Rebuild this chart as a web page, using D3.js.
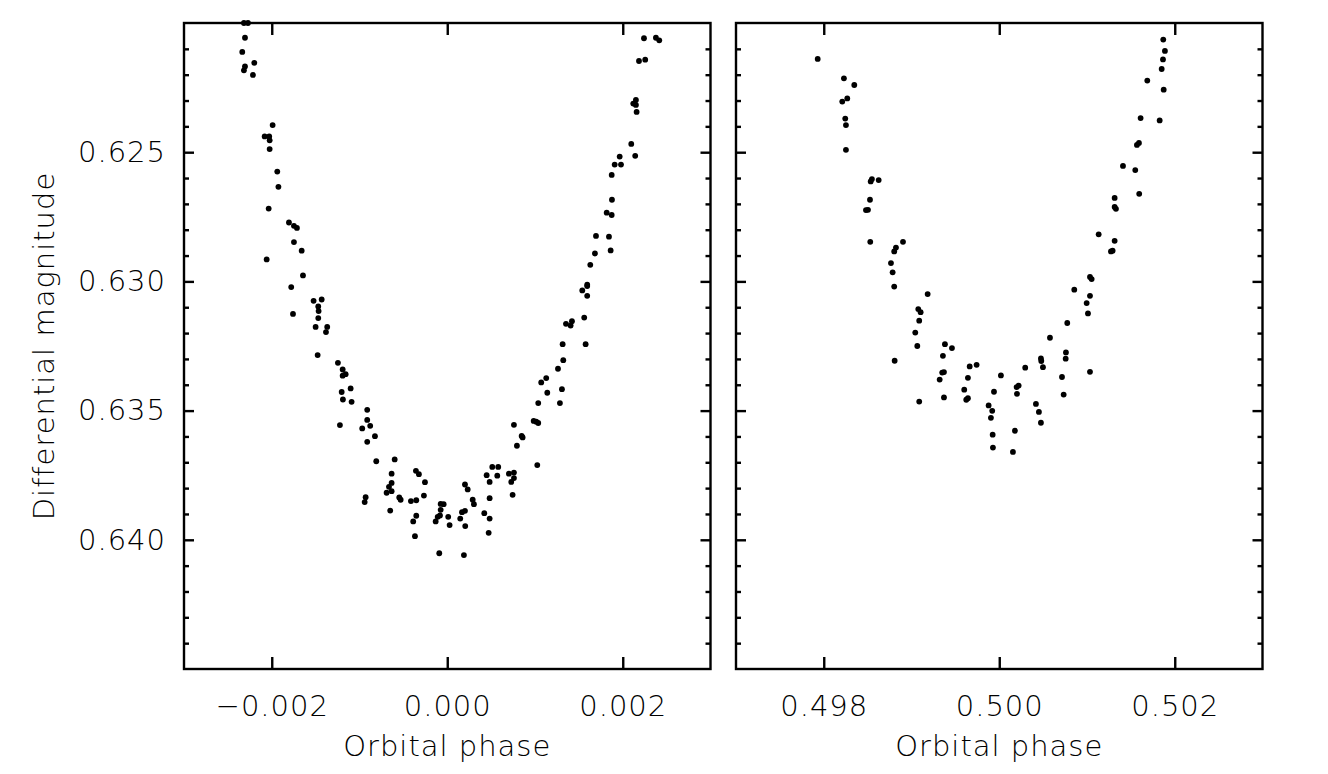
<!DOCTYPE html>
<html><head><meta charset="utf-8">
<script src="https://cdn.jsdelivr.net/npm/d3@7/dist/d3.min.js"></script>
<style>body{margin:0;background:#fff}text{font-family:"DejaVu Sans",sans-serif;font-weight:200;letter-spacing:1px}</style>
</head><body>
<svg id="chart" width="1328" height="774"></svg>
<script>
// Primary eclipse (left panel)
const leftPhase = [-0.002317,-0.002271,-0.002305,-0.002336,-0.002199,-0.002305,-0.002317,-0.002214,-0.001990,-0.002081,
-0.002029,-0.002024,-0.002024,-0.001937,-0.001924,-0.002035,-0.001804,-0.001747,-0.001713,-0.001747,
-0.001659,-0.002058,-0.001644,-0.001778,-0.001523,-0.001431,-0.001470,-0.001466,-0.001758,-0.001470,
-0.001500,-0.001368,-0.001382,-0.001477,-0.001246,-0.001192,-0.001158,-0.001192,-0.001101,-0.001203,
-0.001189,-0.001090,-0.000912,-0.001223,-0.000912,-0.000878,-0.000969,-0.000824,-0.000912,-0.000809,
-0.000599,-0.000634,-0.000634,-0.000664,-0.000634,-0.000691,-0.000930,-0.000941,-0.000547,-0.000531,
-0.000357,-0.000323,-0.000254,-0.000266,-0.000414,-0.000353,-0.000650,-0.000353,-0.000388,-0.000368,
-0.000075,-0.000041,-0.000075,0.000011,-0.000083,-0.000109,-0.000132,0.000027,0.000202,0.000233,
0.000148,0.000168,0.000202,0.000205,-0.000091,0.000190,0.000290,0.000304,0.000422,0.000483,
0.000472,0.000449,0.000513,0.000581,0.000570,0.000483,0.000483,0.000703,0.000760,0.000760,
0.000729,0.000745,0.000760,0.000794,0.000848,0.000859,0.001026,0.000985,0.001014,0.001037,
0.001037,0.001071,0.001128,0.001140,0.001262,0.001307,0.001284,0.001322,0.001315,0.001577,
0.001353,0.001406,0.001421,0.001561,0.001539,0.001595,0.001595,0.001595,0.001630,0.001683,
0.001695,0.001843,0.001862,0.001817,0.001874,0.001877,0.001874,0.001908,0.001980,0.001965,
0.002142,0.002097,0.002158,0.002150,0.002120,0.002150,0.002185,0.002256,0.002242,0.002378,0.002416];
const leftMag = [0.62000,0.62000,0.62057,0.62112,0.62154,0.62168,0.62183,0.62201,0.62395,0.62439,
0.62439,0.62454,0.62488,0.62575,0.62634,0.62718,0.62772,0.62785,0.62793,0.62848,
0.62881,0.62915,0.62977,0.63022,0.63075,0.63070,0.63097,0.63115,0.63126,0.63142,
0.63176,0.63176,0.63196,0.63285,0.63315,0.63341,0.63359,0.63365,0.63414,0.63428,
0.63457,0.63466,0.63497,0.63556,0.63536,0.63559,0.63569,0.63599,0.63621,0.63696,
0.63689,0.63744,0.63780,0.63795,0.63812,0.63818,0.63835,0.63854,0.63836,0.63845,
0.63733,0.63746,0.63777,0.63829,0.63850,0.63847,0.63887,0.63907,0.63929,0.63986,
0.63861,0.63862,0.63884,0.63911,0.63906,0.63911,0.63929,0.63943,0.63786,0.63805,
0.63918,0.63893,0.63888,0.63947,0.64052,0.64059,0.63845,0.63862,0.63897,0.63918,
0.63973,0.63750,0.63718,0.63718,0.63752,0.63776,0.63839,0.63744,0.63740,0.63761,
0.63776,0.63826,0.63555,0.63636,0.63598,0.63604,0.63711,0.63540,0.63543,0.63548,
0.63471,0.63391,0.63374,0.63431,0.63338,0.63417,0.63471,0.63305,0.63243,0.63243,
0.63164,0.63171,0.63154,0.63140,0.63035,0.63013,0.63018,0.63056,0.62936,0.62892,
0.62824,0.62827,0.62880,0.62734,0.62743,0.62684,0.62588,0.62548,0.62548,0.62517,
0.62514,0.62468,0.62344,0.62317,0.62312,0.62298,0.62147,0.62142,0.62059,0.62057,0.62067];

// Secondary eclipse (right panel)
const rightPhase = [0.497931,0.498230,0.498348,0.498268,0.498211,0.498245,0.498253,0.498253,0.498549,0.498535,
0.498626,0.498527,0.498481,0.498504,0.498530,0.498803,0.498823,0.498903,0.498766,0.498785,
0.498803,0.499184,0.499077,0.499104,0.499088,0.499043,0.499066,0.498808,0.499381,0.499461,
0.499358,0.499350,0.499370,0.499321,0.499370,0.499088,0.499663,0.499742,0.499643,0.499601,
0.499624,0.499643,0.500019,0.499940,0.499879,0.499920,0.499905,0.499925,0.499928,0.500296,
0.500198,0.500221,0.500202,0.500179,0.501410,0.501550,0.501595,0.501315,0.501315,0.501330,
0.501133,0.501315,0.501273,0.501292,0.501034,0.501053,0.500855,0.501034,0.500996,0.501011,
0.500775,0.500578,0.500475,0.500479,0.500498,0.500760,0.500757,0.500715,0.501034,0.500734,
0.501869,0.501888,0.501866,0.501851,0.501687,0.501874,0.501611,0.501828,0.501592,0.501569,
0.500418,0.500452,0.500475,0.500156];
const rightMag = [0.62139,0.62214,0.62240,0.62292,0.62304,0.62370,0.62395,0.62491,0.62604,0.62613,
0.62608,0.62684,0.62724,0.62723,0.62847,0.62884,0.62869,0.62847,0.62929,0.62965,
0.63020,0.63049,0.63107,0.63119,0.63152,0.63198,0.63250,0.63307,0.63243,0.63258,
0.63288,0.63353,0.63351,0.63380,0.63449,0.63465,0.63329,0.63323,0.63373,0.63419,
0.63458,0.63452,0.63364,0.63427,0.63480,0.63501,0.63528,0.63593,0.63643,0.63334,
0.63409,0.63403,0.63435,0.63578,0.62553,0.62569,0.62661,0.62677,0.62712,0.62719,
0.62818,0.62843,0.62884,0.62881,0.62983,0.62991,0.63032,0.63056,0.63084,0.63124,
0.63161,0.63218,0.63298,0.63308,0.63332,0.63275,0.63299,0.63370,0.63350,0.63438,
0.62064,0.62108,0.62141,0.62178,0.62223,0.62258,0.62368,0.62377,0.62464,0.62472,
0.63474,0.63505,0.63547,0.63660];

const leftXTicks = [-0.002, 0.000, 0.002];
const rightXTicks = [0.498, 0.500, 0.502];
const yMajorTicks = [0.625, 0.630, 0.635, 0.640];
const yMinorTicks = [0.621,0.622,0.623,0.624,0.626,0.627,0.628,0.629,0.631,0.632,0.633,0.634,0.636,0.637,0.638,0.639,0.641,0.642,0.643,0.644];
const leftXDomain = [-0.003, 0.003];
const rightXDomain = [0.497, 0.503];
const yDomain = [0.620, 0.645];

const svg = d3.select("#chart");
const plotTop = 23, plotBottom = 669;
const panels = [
  {x0: 184, x1: 710.5, domain: leftXDomain, ticks: leftXTicks, phase: leftPhase, mag: leftMag, ylabels: true},
  {x0: 736, x1: 1262.5, domain: rightXDomain, ticks: rightXTicks, phase: rightPhase, mag: rightMag, ylabels: false}
];
const y = d3.scaleLinear().domain(yDomain).range([plotTop, plotBottom]);
const fmt = d3.format(".3f");
const fs = 29;

panels.forEach(p => {
  const x = d3.scaleLinear().domain(p.domain).range([p.x0, p.x1]);
  const g = svg.append("g");
  const W = p.x1 - p.x0;
  const bx = g.append("g").attr("transform", `translate(0,${plotBottom})`)
    .call(d3.axisBottom(x).tickValues(p.ticks).tickSize(-12).tickSizeOuter(0).tickPadding(26).tickFormat(fmt));
  const tx = g.append("g").attr("transform", `translate(0,${plotTop})`)
    .call(d3.axisTop(x).tickValues(p.ticks).tickSize(-12).tickSizeOuter(0).tickFormat(""));
  const ly = g.append("g").attr("transform", `translate(${p.x0},0)`)
    .call(d3.axisLeft(y).tickValues(yMajorTicks).tickSize(-10).tickSizeOuter(0).tickPadding(18).tickFormat(p.ylabels ? fmt : ""));
  const lym = g.append("g").attr("transform", `translate(${p.x0},0)`)
    .call(d3.axisLeft(y).tickValues(yMinorTicks).tickSize(-5).tickSizeOuter(0).tickFormat(""));
  const ry = g.append("g").attr("transform", `translate(${p.x1},0)`)
    .call(d3.axisRight(y).tickValues(yMajorTicks).tickSize(-10).tickSizeOuter(0).tickFormat(""));
  const rym = g.append("g").attr("transform", `translate(${p.x1},0)`)
    .call(d3.axisRight(y).tickValues(yMinorTicks).tickSize(-5).tickSizeOuter(0).tickFormat(""));
  [bx, tx, ly, lym, ry, rym].forEach(a => {
    a.select(".domain").remove();
    a.selectAll("line").attr("stroke", "#000").attr("stroke-width", 2.4);
    a.selectAll("text").attr("font-size", fs).attr("fill", "#000").attr("font-family", null);
  });
  g.append("rect").attr("x", p.x0).attr("y", plotTop).attr("width", W).attr("height", plotBottom - plotTop)
    .attr("fill", "none").attr("stroke", "#000").attr("stroke-width", 2.4);
  g.append("g").selectAll("circle").data(d3.range(p.phase.length)).join("circle")
    .attr("cx", i => x(p.phase[i])).attr("cy", i => y(p.mag[i])).attr("r", 2.9).attr("fill", "#000");
  g.append("text").attr("x", (p.x0 + p.x1) / 2).attr("y", 756).attr("text-anchor", "middle")
    .attr("font-size", fs).attr("fill", "#000").text("Orbital phase");
});
svg.append("text").attr("transform", `translate(54,${(plotTop + plotBottom) / 2}) rotate(-90)`)
  .attr("text-anchor", "middle").attr("font-size", fs).attr("fill", "#000").text("Differential magnitude");
</script>
</body></html>
